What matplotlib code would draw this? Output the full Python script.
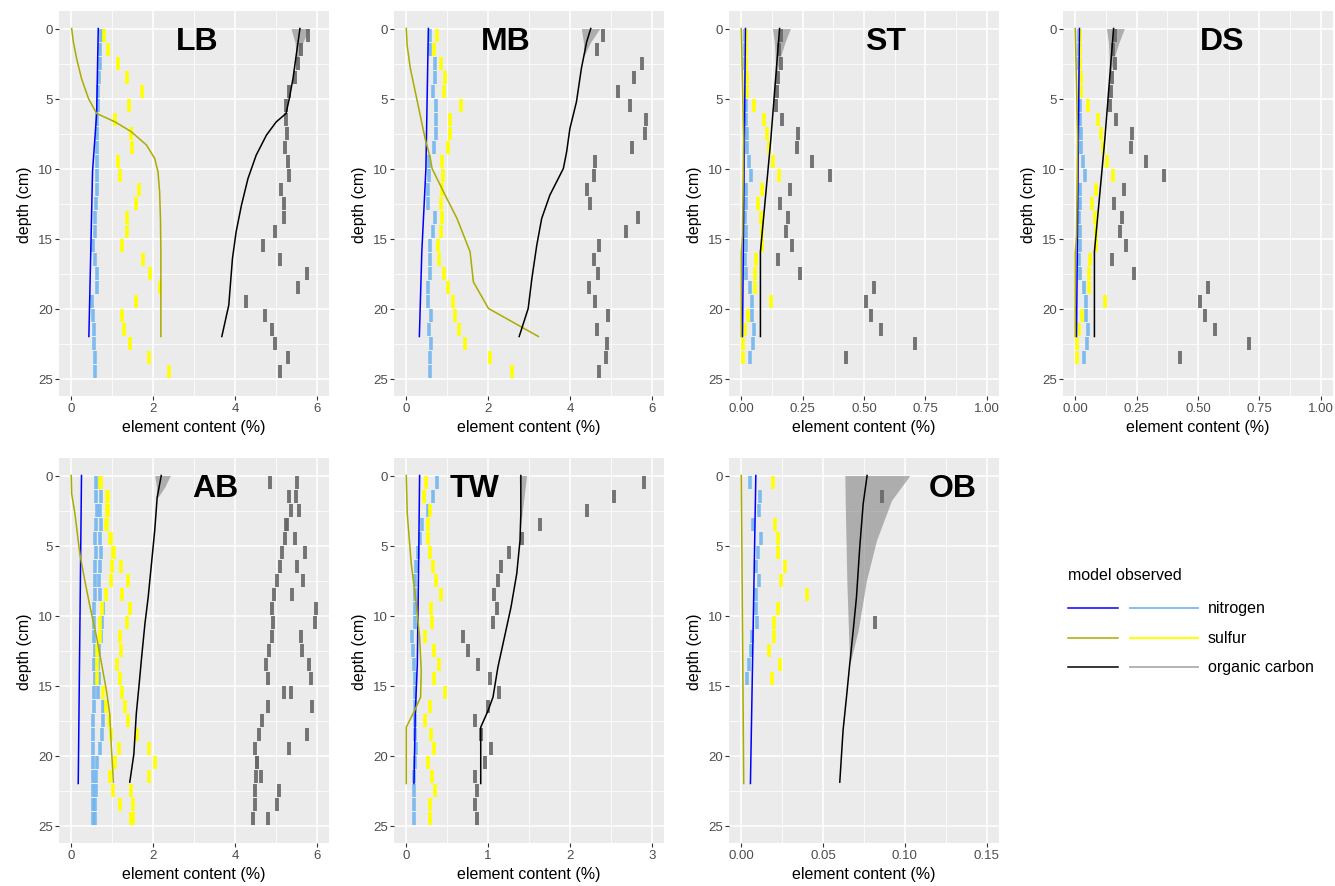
import numpy as np
import matplotlib
matplotlib.use("Agg")
import matplotlib.pyplot as plt
from matplotlib.transforms import blended_transform_factory

plt.rcParams['font.family'] = ['Liberation Sans', 'DejaVu Sans']

nan = np.nan

# observed values, one per 1 cm slice from the surface down
lb_n_obs = [0.72, 0.69, 0.69, 0.68, 0.66, 0.65, 0.64, 0.64, 0.64, 0.64, 0.62, 0.62, 0.60,
            0.59, 0.59, 0.54, 0.58, 0.63, 0.62, 0.51, 0.54, 0.56, 0.56, 0.59, 0.57]
lb_s_obs = [0.80, 0.89, 1.13, 1.35, 1.74, 1.42, 1.08, 1.47, 1.49, 1.14, 1.20, 1.66, 1.59,
            1.37, 1.37, 1.24, 1.76, 1.92, 2.16, 1.59, 1.23, 1.28, 1.44, 1.90, 2.38]
lb_c_obs = [5.78, 5.62, 5.54, 5.46, 5.33, 5.25, 5.25, 5.28, 5.23, 5.30, 5.33, 5.13, 5.21,
            5.19, 4.97, 4.68, 5.11, 5.75, 5.55, 4.27, 4.74, 4.91, 4.99, 5.29, 5.11]

mb_n_obs = [0.59, 0.59, 0.71, 0.71, 0.66, 0.73, 0.73, 0.72, 0.68, 0.56, 0.56, 0.54, 0.54,
            0.69, 0.65, 0.59, 0.59, 0.59, 0.54, 0.53, 0.60, 0.56, 0.60, 0.58, 0.57]
mb_s_obs = [0.74, 0.67, 0.85, 0.95, 0.93, 1.33, 1.07, 1.06, 1.03, 0.88, 0.89, 0.87, 0.85,
            0.87, 0.85, 0.78, 0.81, 0.92, 1.03, 1.13, 1.18, 1.30, 1.44, 2.05, 2.59]
mb_c_obs = [4.81, 4.65, 5.76, 5.57, 5.18, 5.46, 5.85, 5.83, 5.51, 4.61, 4.59, 4.42, 4.48,
            5.67, 5.36, 4.72, 4.60, 4.68, 4.46, 4.61, 4.94, 4.67, 4.90, 4.89, 4.70]

st_n_obs = [0.017, 0.017, 0.017, 0.018, 0.018, 0.018, 0.018, 0.024, 0.024, 0.031, 0.039, 0.018,
            0.018, 0.017, 0.019, 0.018, 0.017, 0.019, 0.037, 0.045, 0.045, 0.050, 0.048, 0.037]
st_s_obs = [0.019, 0.021, 0.021, 0.023, 0.023, 0.052, 0.094, 0.105, 0.113, 0.129, 0.154, 0.086,
            0.070, 0.082, 0.085, 0.085, 0.059, 0.054, 0.056, 0.123, 0.029, 0.016, 0.005, 0.008]
st_c_obs = [0.163, 0.154, 0.161, 0.150, 0.146, 0.143, 0.166, 0.232, 0.229, 0.287, 0.360, 0.197,
            0.159, 0.192, 0.184, 0.208, 0.148, 0.240, 0.540, 0.509, 0.527, 0.570, 0.707, 0.426]

ds_n_obs = list(st_n_obs)
ds_s_obs = list(st_s_obs)
ds_c_obs = list(st_c_obs)

ab_n_obs_a = [0.60, 0.60, 0.62, 0.60, 0.59, 0.60, 0.59, 0.59, 0.57, 0.56, 0.56, 0.56, 0.57,
              0.56, 0.57, 0.55, 0.55, 0.54, 0.54, 0.52, 0.52, 0.54, 0.54, 0.54, 0.52]
ab_n_obs_b = [0.70, 0.72, 0.70, 0.72, 0.70, 0.72, 0.70, 0.68, 0.70, 0.77, 0.74, 0.72, 0.68,
              0.66, 0.67, 0.65, 0.77, 0.78, 0.74, 0.70, 0.62, 0.60, 0.60, 0.59, 0.58]
ab_s_obs_a = [0.70, 0.88, 0.90, 0.86, 0.96, 1.03, 0.99, 0.96, 0.86, 0.74, 0.70, 0.70, 0.63,
              0.63, 0.62, 0.77, 0.86, 0.93, 0.96, 1.17, 1.07, 0.94, 1.03, 1.20, 1.47]
ab_s_obs_b = [0.72, 0.90, 0.88, 0.88, 0.95, 1.05, 1.21, 1.39, 1.23, 1.43, 1.35, 1.19, 1.21,
              1.12, 1.19, 1.25, 1.31, 1.39, 1.61, 1.90, 2.04, 1.90, 1.47, 1.50, 1.50]
ab_c_obs_a = [4.85, 5.33, 5.36, 5.25, 5.22, 5.16, 5.09, 5.03, 4.95, 4.90, 4.93, 4.90, 4.84,
              4.77, 4.80, 5.19, 4.82, 4.66, 4.60, 4.48, 4.55, 4.52, 4.50, 4.48, 4.44]
ab_c_obs_b = [5.51, 5.50, 5.56, 5.27, 5.48, 5.72, 5.51, 5.66, 5.39, 5.98, 5.95, 5.61, 5.64,
              5.82, 5.86, 5.36, 5.89, nan, 5.77, 5.32, 4.55, 4.64, 5.07, 5.04, 4.82]

tw_n_obs = [0.37, 0.33, 0.265, 0.19, 0.163, 0.142, 0.122, 0.11, 0.11, 0.102, 0.102, 0.069, 0.081,
            0.09, 0.102, 0.102, 0.102, 0.11, 0.11, 0.122, 0.11, 0.09, 0.093, 0.093, 0.093]
tw_s_obs = [0.244, 0.215, 0.285, 0.265, 0.265, 0.293, 0.326, 0.367, 0.42, 0.306, 0.314, 0.224,
            0.334, 0.40, 0.338, 0.477, 0.293, 0.232, 0.297, 0.338, 0.265, 0.314, 0.355, 0.289, 0.289]
tw_c_obs = [2.90, 2.54, 2.21, 1.64, 1.42, 1.26, 1.16, 1.12, 1.07, 1.11, 1.06, 0.69, 0.75,
            0.88, 1.02, 1.13, 1.00, 0.84, 0.91, 1.03, 0.96, 0.84, 0.86, 0.84, 0.86]

ob_n_obs = [0.0056, 0.0117, 0.0109, 0.0072, 0.0123, 0.0103, 0.0089, 0.0109, 0.0093, 0.0089,
            0.0099, 0.0068, 0.0062, 0.0046, 0.0036]
ob_s_obs = [0.0195, nan, nan, 0.0209, 0.0227, 0.0227, 0.0268, 0.0244, 0.0402, 0.0227, 0.0199,
            0.0203, 0.0170, 0.0235, 0.0185]
ob_c_obs = [nan, 0.0857, nan, nan, nan, nan, nan, nan, nan, nan, 0.0816]

# model profiles (depth nodes, values)
lb_n_depth = [0, 6.1, 10.2, 22]
lb_n_model = [0.66, 0.62, 0.52, 0.43]
lb_s_depth = [0, 0.95, 2.14, 3.57, 5.0, 6.07, 6.67, 7.38, 8.33, 9.29, 10.24, 11.67, 13.57, 15.95, 22]
lb_s_model = [0.01, 0.05, 0.13, 0.25, 0.42, 0.62, 1.07, 1.47, 1.84, 2.04, 2.12, 2.16, 2.18, 2.19, 2.19]
lb_c_depth = [0, 1.67, 3.57, 5.0, 6.07, 6.67, 7.62, 9.05, 10.71, 12.62, 14.52, 16.43, 19.76, 22]
lb_c_model = [5.59, 5.51, 5.42, 5.33, 5.25, 5.01, 4.77, 4.52, 4.32, 4.16, 4.03, 3.94, 3.85, 3.68]

mb_n_depth = [0, 10, 15.95, 22]
mb_n_model = [0.54, 0.48, 0.38, 0.32]
mb_s_depth = [0, 1.19, 2.86, 4.52, 6.19, 7.86, 9.29, 10, 11.9, 13.57, 15.95, 18.1, 20, 22]
mb_s_model = [0.0, 0.02, 0.10, 0.22, 0.34, 0.46, 0.59, 0.63, 0.95, 1.24, 1.56, 1.64, 2.01, 3.23]
mb_c_depth = [0, 0.95, 2.86, 5.24, 7.14, 8.81, 10, 11.9, 13.57, 15.48, 17.86, 20, 22]
mb_c_model = [4.51, 4.41, 4.28, 4.16, 4.0, 3.92, 3.84, 3.51, 3.31, 3.19, 3.07, 2.98, 2.76]

st_n_depth = [0, 22]
st_n_model = [0.017, 0.005]
st_s_depth = [0, 7.9, 14.8, 16, 22]
st_s_model = [0.0, 0.01, 0.005, 0.0, 0.0]
st_c_depth = [0, 8, 15.95, 22]
st_c_model = [0.156, 0.120, 0.078, 0.078]

ds_n_depth, ds_n_model = list(st_n_depth), list(st_n_model)
ds_s_depth, ds_s_model = list(st_s_depth), list(st_s_model)
ds_c_depth, ds_c_model = list(st_c_depth), list(st_c_model)

ab_n_depth = [0, 22]
ab_n_model = [0.25, 0.17]
ab_s_depth = [0, 1.31, 2.74, 5.6, 7.5, 9.4, 11.55, 13.45, 15.36, 17.02, 19.4, 21.9]
ab_s_model = [0.0, 0.01, 0.09, 0.21, 0.33, 0.46, 0.62, 0.74, 0.86, 0.94, 0.98, 1.03]
ab_c_depth = [0, 1.55, 3.93, 6.31, 8.69, 10.6, 12.97, 14.88, 17.0, 19.9, 21.9]
ab_c_model = [2.20, 2.10, 2.04, 1.96, 1.88, 1.80, 1.72, 1.66, 1.59, 1.53, 1.43]

tw_n_depth = [0, 6.3, 13.5, 17.0, 22]
tw_n_model = [0.163, 0.151, 0.135, 0.11, 0.094]
tw_s_depth = [0, 2.74, 6.31, 9.17, 11.55, 13.93, 15.83, 16.79, 17.98, 22]
tw_s_model = [0.0, 0.012, 0.061, 0.122, 0.163, 0.183, 0.175, 0.102, 0.0, 0.0]
tw_c_depth = [0, 2.74, 4.64, 7.02, 9.4, 11.55, 13.69, 15.83, 16.79, 17.98, 22]
tw_c_model = [1.40, 1.40, 1.39, 1.35, 1.28, 1.20, 1.12, 1.06, 1.0, 0.91, 0.91]

ob_n_depth = [0, 22]
ob_n_model = [0.0089, 0.0056]
ob_s_depth = [0, 22]
ob_s_model = [0.0, 0.0015]
ob_c_depth = [0, 2.02, 5.12, 8.69, 11.07, 13.45, 15.83, 18.21, 21.9]
ob_c_model = [0.0769, 0.0745, 0.0724, 0.0704, 0.0684, 0.0663, 0.0643, 0.0622, 0.0602]

# confidence band round the carbon model (depth, low, high)
lb_band = ([0, 1, 2, 3], [5.37, 5.47, 5.50, 5.46], [5.82, 5.66, 5.55, 5.46])
mb_band = ([0, 1, 2], [4.28, 4.33, 4.34], [4.73, 4.50, 4.34])
st_band = ([0, 1, 2, 3, 3.8], [0.127, 0.135, 0.138, 0.139, 0.137], [0.200, 0.178, 0.160, 0.147, 0.138])
ds_band = st_band
ab_band = ([0, 0.8, 1.55], [2.04, 2.08, 2.09], [2.42, 2.29, 2.12])
tw_band = ([0, 2, 4], [1.38, 1.39, 1.39], [1.47, 1.43, 1.39])
ob_band = ([0, 1.78, 4.64, 7.5, 11.07, 12.74, 13.45],
           [0.0633, 0.0635, 0.064, 0.0645, 0.0655, 0.066, 0.0665],
           [0.103, 0.0918, 0.0826, 0.0765, 0.0714, 0.0679, 0.0665])

names = ['LB', 'MB', 'ST', 'DS', 'AB', 'TW', 'OB']
title_x = [0.51, 0.415, 0.58, 0.59, 0.58, 0.30, 0.83]

blue, lblue = '#0000FF', '#6AB3F0'
olive, yellow = '#ABAB00', '#FFFF00'
dgray = '#666666'

W, H = 1335, 887
fig = plt.figure(figsize=(W / 100, H / 100), dpi=100)

col_left = [59, 394, 729, 1063]
row_top = [12, 459]
pw, ph = 270, 385


def obs(ax, vals, color, lw, alpha=1.0):
    v = np.array(vals, dtype=float)
    d = np.arange(len(v))
    ok = ~np.isnan(v)
    ax.vlines(v[ok], d[ok] + 0.03, d[ok] + 0.97, colors=color, lw=lw, alpha=alpha)


def style(ax, kind):
    ax.set_facecolor('#EBEBEB')
    for s in ax.spines.values():
        s.set_visible(False)
    if kind == 'six':
        ax.set_xlim(-0.3, 6.3)
        ax.set_xticks([0, 2, 4, 6])
        ax.set_xticks([1, 3, 5], minor=True)
    elif kind == 'three':
        ax.set_xlim(-0.15, 3.15)
        ax.set_xticks([0, 1, 2, 3])
        ax.set_xticks([0.5, 1.5, 2.5], minor=True)
    elif kind == 'one':
        ax.set_xlim(-0.05, 1.05)
        ax.set_xticks([0, 0.25, 0.5, 0.75, 1.0])
        ax.set_xticklabels(['0.00', '0.25', '0.50', '0.75', '1.00'])
        ax.set_xticks([0.125, 0.375, 0.625, 0.875], minor=True)
    else:
        ax.set_xlim(-0.0075, 0.1575)
        ax.set_xticks([0, 0.05, 0.10, 0.15])
        ax.set_xticklabels(['0.00', '0.05', '0.10', '0.15'])
        ax.set_xticks([0.025, 0.075, 0.125], minor=True)
    ax.set_ylim(26.25, -1.25)
    ax.set_yticks([0, 5, 10, 15, 20, 25])
    ax.set_yticks([2.5, 7.5, 12.5, 17.5, 22.5], minor=True)
    ax.grid(which='major', color='white', lw=1.1)
    ax.grid(which='minor', color='white', lw=0.55)
    ax.set_axisbelow(True)
    ax.tick_params(which='major', length=2.6, width=0.8, color='#333333',
                   labelcolor='#4D4D4D', labelsize=9.5, pad=2)
    ax.tick_params(which='minor', length=0)
    ax.set_xlabel('element content (%)', fontsize=11.5, labelpad=3)
    ax.set_ylabel('depth (cm)', fontsize=11.5, labelpad=4)


panels = [
    ('six', [lb_n_obs], [lb_s_obs], [lb_c_obs], (lb_n_depth, lb_n_model),
     (lb_s_depth, lb_s_model), (lb_c_depth, lb_c_model), lb_band),
    ('six', [mb_n_obs], [mb_s_obs], [mb_c_obs], (mb_n_depth, mb_n_model),
     (mb_s_depth, mb_s_model), (mb_c_depth, mb_c_model), mb_band),
    ('one', [st_n_obs], [st_s_obs], [st_c_obs], (st_n_depth, st_n_model),
     (st_s_depth, st_s_model), (st_c_depth, st_c_model), st_band),
    ('one', [ds_n_obs], [ds_s_obs], [ds_c_obs], (ds_n_depth, ds_n_model),
     (ds_s_depth, ds_s_model), (ds_c_depth, ds_c_model), ds_band),
    ('six', [ab_n_obs_a, ab_n_obs_b], [ab_s_obs_a, ab_s_obs_b], [ab_c_obs_a, ab_c_obs_b],
     (ab_n_depth, ab_n_model), (ab_s_depth, ab_s_model), (ab_c_depth, ab_c_model), ab_band),
    ('three', [tw_n_obs], [tw_s_obs], [tw_c_obs], (tw_n_depth, tw_n_model),
     (tw_s_depth, tw_s_model), (tw_c_depth, tw_c_model), tw_band),
    ('small', [ob_n_obs], [ob_s_obs], [ob_c_obs], (ob_n_depth, ob_n_model),
     (ob_s_depth, ob_s_model), (ob_c_depth, ob_c_model), ob_band),
]

for i, (kind, n_obs, s_obs, c_obs, n_mod, s_mod, c_mod, band) in enumerate(panels):
    r, c = divmod(i, 4)
    ax = fig.add_axes([col_left[c] / W, 1 - (row_top[r] + ph) / H, pw / W, ph / H])
    style(ax, kind)

    ax.fill_betweenx(band[0], band[1], band[2], color='#707070', alpha=0.5, lw=0)
    for v in n_obs:
        obs(ax, v, lblue, 2.6, 0.85)
    for v in s_obs:
        obs(ax, v, yellow, 2.6)
    for v in c_obs:
        obs(ax, v, dgray, 2.8, 0.9)
    ax.plot(n_mod[1], n_mod[0], color=blue, lw=1.1)
    ax.plot(s_mod[1], s_mod[0], color=olive, lw=1.1)
    ax.plot(c_mod[1], c_mod[0], color='black', lw=1.1)

    tr = blended_transform_factory(ax.transAxes, ax.transData)
    ax.text(title_x[i], 0.9, names[i], transform=tr, ha='center', va='center',
            fontsize=23, fontweight='bold')

# legend
lg = fig.add_axes([1040 / W, 1 - 700 / H, 295 / W, 140 / H])
lg.set_xlim(1040, 1335)
lg.set_ylim(700, 560)
lg.axis('off')
lg.text(1068, 576, 'model observed', fontsize=11.5, va='center', ha='left')
leg_rows = [('nitrogen', blue, '#87BEF0', 609), ('sulfur', olive, yellow, 639),
            ('organic carbon', 'black', '#B3B3B3', 668)]
for label, mcol, ocol, y in leg_rows:
    lg.plot([1068, 1118], [y, y], color=mcol, lw=1.1)
    lg.plot([1130, 1198], [y, y], color=ocol, lw=1.4)
    lg.text(1208, y, label, fontsize=11.5, va='center', ha='left')

fig.savefig('out.png', dpi=100)
